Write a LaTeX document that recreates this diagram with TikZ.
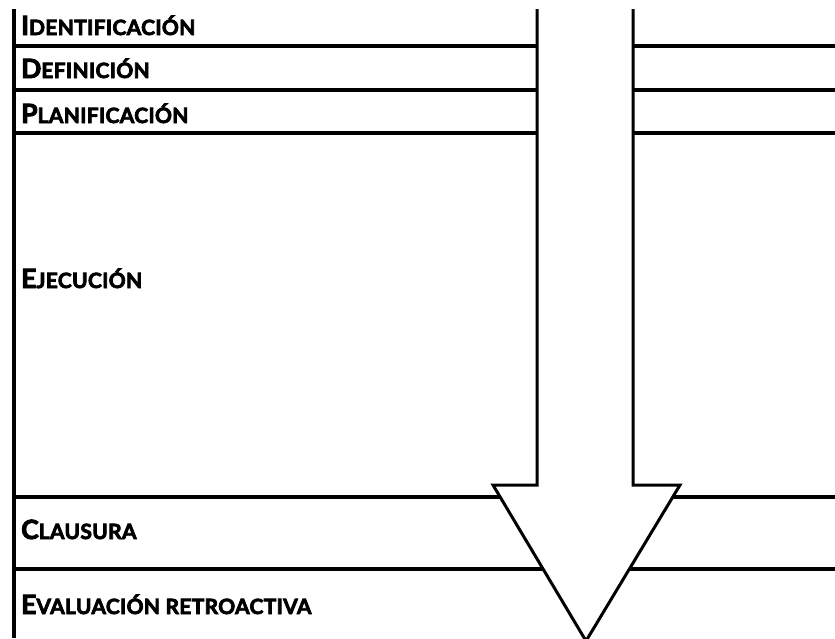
\documentclass[tikz,border=0pt]{standalone}
\usepackage{fontspec}
\setmainfont{Lato}
\newfontfamily\heavy{Lato}[UprightFont={* Bold}, FakeBold=3.5, LetterSpace=1.5]
% Small capitals built from two sizes of upper case
\newcommand{\capA}[1]{{\fontsize{26.5}{26.5}\selectfont #1}}
\newcommand{\capB}[1]{{\fontsize{21}{21}\selectfont #1}}
\tikzset{
  rule/.style={line width=3.6pt},
  phase/.style={anchor=base west, inner sep=0pt, font=\heavy},
  bigarrow/.style={line width=3pt, line join=miter},
}
\begin{document}
\begin{tikzpicture}[x=1pt, y=-1pt]
\useasboundingbox (0,0) rectangle (835,638);
% frame: left edge and the row rules
\coordinate (tl) at (14,9);
\coordinate (bl) at (14,638);
\draw[rule] (tl) -- (bl);
\foreach \yy in {46,90,133,497,569}
  \draw[rule] (14,\yy) -- (835,\yy);
% the downward arrow, filled white over the rules, open at the top
\coordinate (sl) at (537,9);
\coordinate (sr) at (633,9);
\coordinate (bl1) at (537,485);
\coordinate (bl2) at (493,485);
\coordinate (tip) at (586,641);
\coordinate (br2) at (680,485);
\coordinate (br1) at (633,485);
\fill[white] (sl) -- (bl1) -- (bl2) -- (tip) -- (br2) -- (br1) -- (sr) -- cycle;
\draw[bigarrow] (sl) -- (bl1) -- (bl2) -- (tip) -- (br2) -- (br1) -- (sr);
% phase labels
\node[phase] (ident) at (21,35) {\capA{I}\capB{DENTIFICACIÓN}};
\node[phase] (defin) at (21,78) {\capA{D}\capB{EFINICIÓN}};
\node[phase] (plan)  at (21,123) {\capA{P}\capB{LANIFICACIÓN}};
\node[phase] (ejec)  at (21,288) {\capA{E}\capB{JECUCIÓN}};
\node[phase] (claus) at (21,539) {\capA{C}\capB{LAUSURA}};
\node[phase] (eval)  at (21,614) {\capA{E}\capB{VALUACIÓN RETROACTIVA}};
\end{tikzpicture}
\end{document}
